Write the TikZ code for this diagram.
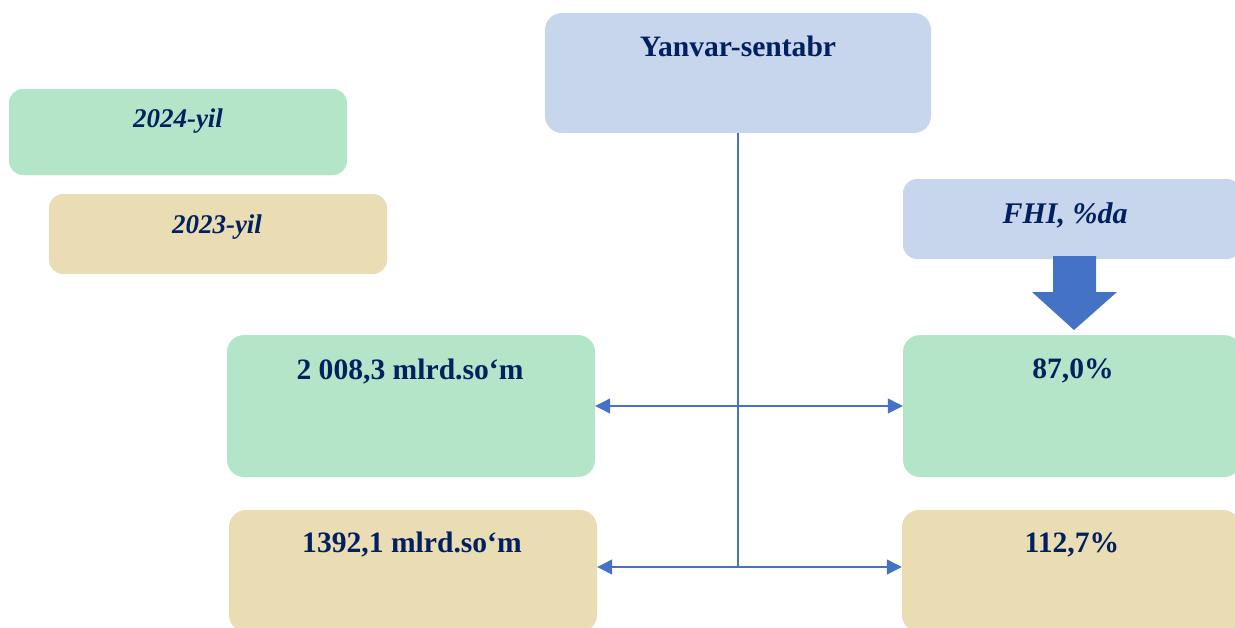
\documentclass[tikz,border=0pt]{standalone}
\usepackage{fontspec}
\setmainfont{Liberation Serif}
\usetikzlibrary{arrows.meta}
\definecolor{boxgreen}{RGB}{179,230,201}
\definecolor{boxtan}{RGB}{234,220,179}
\definecolor{boxblue}{RGB}{199,213,237}
\definecolor{linkblue}{RGB}{68,114,196}
\definecolor{navy}{RGB}{0,32,96}
\tikzset{
  panel/.style={draw=none, rounded corners=17pt, inner sep=0pt},
  smallpanel/.style={draw=none, rounded corners=14pt, inner sep=0pt},
  boldtxt/.style={anchor=base, text=navy, inner sep=0pt, font=\fontsize{29.6}{34}\selectfont\bfseries},
  itxt/.style={anchor=base, text=navy, inner sep=0pt, font=\fontsize{27}{32}\selectfont\bfseries\itshape},
  link/.style={draw=linkblue, line width=1.2pt},
  dlink/.style={link, {Triangle[length=15pt,width=15pt]}-{Triangle[length=15pt,width=15pt]}}
}
\begin{document}
\begin{tikzpicture}[x=1pt,y=-1pt]
\useasboundingbox (0,0) rectangle (1235,627);
\clip (0,0) rectangle (1235,627);
% boxes
\node[panel, fill=boxblue, minimum width=386pt, minimum height=120pt] (top) at (738,73) {};
\node[smallpanel, fill=boxgreen, minimum width=338pt, minimum height=86pt] (l2024) at (178,132) {};
\node[smallpanel, fill=boxtan, minimum width=338pt, minimum height=80pt] (l2023) at (218,234) {};
\node[smallpanel, fill=boxblue, minimum width=338pt, minimum height=80pt] (fhi) at (1072,219) {};
\node[panel, fill=boxgreen, minimum width=368pt, minimum height=142pt] (b2024) at (411,406) {};
\node[panel, fill=boxgreen, minimum width=338pt, minimum height=142pt] (p2024) at (1072,406) {};
\node[panel, fill=boxtan, minimum width=368pt, minimum height=122pt] (b2023) at (413,571) {};
\node[panel, fill=boxtan, minimum width=338pt, minimum height=122pt] (p2023) at (1071,571) {};
% texts
\node[boldtxt] (ttop) at (738,56) {Yanvar-sentabr};
\node[itxt] (t2024) at (178,127) {2024-yil};
\node[itxt] (t2023) at (217,233) {2023-yil};
\node[itxt, font=\fontsize{30}{35}\selectfont\bfseries\itshape] (tfhi) at (1065,223) {FHI, \%da};
\node[boldtxt] (tb2024) at (410,379) {2 008,3 mlrd.so‘m};
\node[boldtxt] (tp2024) at (1073,378) {87,0\%};
\node[boldtxt] (tb2023) at (412,552) {1392,1 mlrd.so‘m};
\node[boldtxt] (tp2023) at (1072,552) {112,7\%};
% block arrow
\fill[linkblue] (1053,256) -- (1096,256) -- (1096,292) -- (1117,292) -- (1074,330)
  -- (1032,292) -- (1053,292) -- cycle;
% connectors
\coordinate (j2) at (738,567);
\draw[link] (top.south) -- (j2);
\draw[dlink] (b2024.east) -- (p2024.west);
\draw[dlink] (j2 -| b2023.east) -- (j2 -| p2023.west);
\end{tikzpicture}
\end{document}
